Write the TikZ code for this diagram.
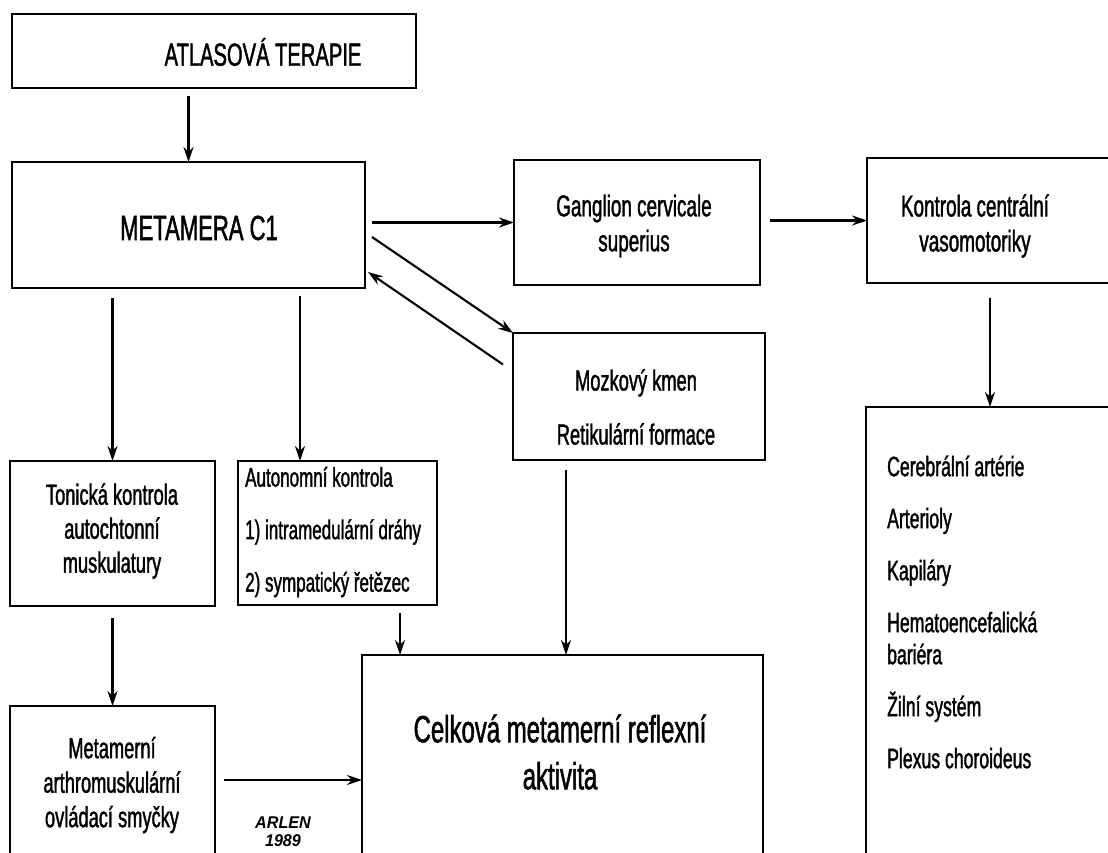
\documentclass[tikz,border=0pt]{standalone}
\usepackage{fontspec}
\setmainfont{Liberation Sans}[FakeStretch=0.63,FakeBold=1.3]
\newfontfamily\arlenfont{Liberation Sans}[FakeStretch=0.95]
\usetikzlibrary{arrows.meta,calc}
\begin{document}
\begin{tikzpicture}[x=1pt,y=-1pt,
  box/.style={draw,line width=2.4pt,rectangle,inner sep=0pt,outer sep=0pt},
  arr/.style={line width=2.1pt,-{Stealth[length=15pt,width=10pt,inset=5pt]}},
  txt/.style={inner sep=0pt,align=center,font=\fontsize{29}{34}\selectfont},
  ltxt/.style={inner sep=0pt,align=left,anchor=west}]
\useasboundingbox (0,0) rectangle (1108,853);
\fill[white] (0,0) rectangle (1108,853);
\clip (0,0) rectangle (1108,853);
% boxes
\node[box,minimum width=404pt,minimum height=74pt] (atlas) at (214,51) {};
\node[box,minimum width=353pt,minimum height=126pt] (meta) at (188.5,225) {};
\node[box,minimum width=246pt,minimum height=125pt] (gang) at (637,222.5) {};
\node[box,minimum width=253pt,minimum height=125pt] (kontr) at (993.5,220.5) {};
\node[box,minimum width=252pt,minimum height=127pt] (mozek) at (639,396.5) {};
\node[box,minimum width=254pt,minimum height=463pt] (vlist) at (993,638.5) {};
\node[box,minimum width=205pt,minimum height=145pt] (tonic) at (112.5,533.5) {};
\node[box,minimum width=199pt,minimum height=144pt] (auton) at (337.5,533) {};
\node[box,minimum width=205pt,minimum height=164pt] (metam) at (112.5,788) {};
\node[box,minimum width=401pt,minimum height=215pt] (celk) at (562.5,762.5) {};
% texts
\node[txt,font=\fontsize{32}{38}\selectfont] (atlasT) at (263,52) {ATLASOVÁ TERAPIE};
\node[txt,font=\fontsize{35}{40}\selectfont] (metaT) at (199,228) {METAMERA C1};
\node[txt,font=\fontsize{30}{35}\selectfont] (gangT) at (634,226) {Ganglion cervicale\\superius};
\node[txt,font=\fontsize{30}{35}\selectfont] (kontrT) at (975,226) {Kontrola centrální\\vasomotoriky};
\node[txt,font=\fontsize{29}{54}\selectfont] (mozekT) at (636,407) {Mozkový kmen\\Retikulární formace};
\node[txt,font=\fontsize{29}{34}\selectfont] (tonicT) at (112,531) {Tonická kontrola\\autochtonní\\muskulatury};
\node[txt,ltxt,font=\fontsize{27}{52.5}\selectfont] (autonT) at (245,532) {Autonomní kontrola\\1) intramedulární dráhy\\2) sympatický řetězec};
\node[txt,font=\fontsize{29}{34.5}\selectfont] (metamT) at (112,785) {Metamerní\\arthromuskulární\\ovládací smyčky};
\node[txt,font=\fontsize{38}{47}\selectfont] (celkT) at (560,752) {Celková metamerní reflexní\\aktivita};
\node[txt,ltxt,font=\fontsize{28}{52}\selectfont] (listT) at (887,612) {Cerebrální artérie\\Arterioly\\Kapiláry\\Hematoencefalická\\[-20pt]bariéra\\Žilní systém\\Plexus choroideus};
\node[inner sep=0pt,align=center,font=\arlenfont\bfseries\itshape\fontsize{17}{18}\selectfont] (arlen) at (283,832) {ARLEN\\1989};
% arrows
\draw[arr] ($(atlas.south -| meta.north)+(0,8)$) -- (meta.north);
\draw[arr] ($(meta.east |- gang.west)+(7,0)$) -- (gang.west);
\draw[arr] ($(gang.east |- kontr.west)+(10,0)$) -- (kontr.west);
\draw[arr] ($(meta.east)+(7,12)$) -- (mozek.north west);
\draw[arr] ($(mozek.west)+(-10,-32)$) -- ($(meta.south east)+(3,-16)$);
\draw[arr] ($(kontr.south)+(-3.5,15)$) -- ($(vlist.north)+(-3,0)$);
\draw[arr] ($(meta.south -| tonic.north)+(0,10)$) -- (tonic.north);
\draw[arr] ($(meta.south)+(111.5,8)$) -- ($(auton.north)+(-37.5,0)$);
\draw[arr] ($(tonic.south)+(0,12)$) -- (metam.north);
\draw[arr] ($(auton.south)+(62.5,8)$) -- ($(celk.north)+(-162.5,0)$);
\draw[arr] ($(mozek.south)+(-73,10)$) -- ($(celk.north)+(3.5,0)$);
\draw[arr] ($(metam.east)+(9,-8)$) -- ($(celk.west)+(0,17.5)$);
\end{tikzpicture}
\end{document}
